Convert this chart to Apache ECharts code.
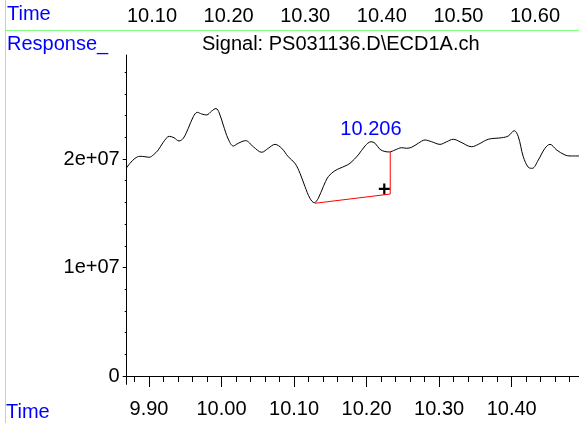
<!DOCTYPE html>
<html><head><meta charset="utf-8">
<script src="https://cdn.jsdelivr.net/npm/echarts@6/dist/echarts.min.js"></script>
<style>html,body{margin:0;padding:0;background:#fff}#c{width:579px;height:423px}</style>
</head><body><div id="c"></div>
<script>
const times = [9.8693,9.8738,9.8807,9.8876,9.8945,9.9004,9.9059,9.9128,9.9197,9.9280,9.9345,9.9414,9.9473,9.9542,9.9611,9.9666,9.9726,9.9795,9.9864,9.9924,9.9969,10.0024,10.0093,10.0162,10.0231,10.0333,10.0438,10.0554,10.0645,10.0737,10.0829,10.0920,10.1013,10.1082,10.1151,10.1219,10.1279,10.1334,10.1403,10.1472,10.1564,10.1702,10.1771,10.1885,10.1978,10.2060,10.2116,10.2184,10.2253,10.2313,10.2391,10.2484,10.2553,10.2621,10.2712,10.2805,10.2897,10.3012,10.3104,10.3195,10.3287,10.3449,10.3540,10.3678,10.3862,10.3953,10.4036,10.4091,10.4160,10.4229,10.4284,10.4367,10.4459,10.4528,10.4620,10.4735,10.4804,10.4928];
const responses = [19.20e6,19.60e6,20.06e6,20.25e6,20.21e6,20.16e6,20.37e6,20.83e6,21.54e6,22.09e6,21.96e6,21.66e6,21.91e6,22.83e6,23.90e6,24.30e6,24.15e6,24.06e6,24.42e6,24.65e6,24.24e6,23.13e6,21.84e6,21.20e6,21.45e6,21.69e6,21.13e6,20.62e6,20.99e6,21.35e6,20.99e6,20.21e6,19.60e6,18.68e6,17.45e6,16.38e6,15.97e6,16.38e6,17.45e6,18.37e6,18.92e6,19.35e6,19.60e6,20.37e6,21.20e6,21.59e6,21.45e6,20.89e6,20.69e6,20.65e6,20.83e6,21.04e6,20.99e6,21.08e6,21.45e6,21.75e6,21.59e6,21.35e6,21.59e6,21.82e6,21.59e6,21.13e6,21.35e6,21.82e6,21.96e6,22.12e6,22.61e6,22.06e6,20.21e6,19.24e6,19.14e6,19.91e6,20.99e6,21.35e6,20.83e6,20.37e6,20.28e6,20.28e6];
const baselineTimes = [10.1288, 10.2326, 10.2326];
const baselineValues = [15.92e6, 16.77e6, 20.65e6];
const markerTime = [10.2244];
const markerValue = [17.24e6];
const peakTime = [10.206];
const peakValue = [21.59e6];
const peakLabel = '10.206';
const bottomTickLabels = [9.9, 10.0, 10.1, 10.2, 10.3, 10.4];
const bottomMinorTicks = [9.88,9.92,9.94,9.96,9.98,10.02,10.04,10.06,10.08,10.12,10.14,10.16,10.18,10.22,10.24,10.26,10.28,10.32,10.34,10.36,10.38,10.42,10.44,10.46,10.48];
const yTickLabels = [0, 1e7, 2e7];
const yMinorTicks = [2e6,4e6,6e6,8e6,1.2e7,1.4e7,1.6e7,1.8e7,2.2e7,2.4e7,2.6e7,2.8e7];
const topTickLabels = ['10.10','10.20','10.30','10.40','10.50','10.60'];

const FONT = 'Liberation Sans, Arial, sans-serif';
const BLUE = '#0000ff';
const GREEN = '#80ff80';
const chart = echarts.init(document.getElementById('c'), null, {renderer:'canvas'});
const lineData = times.map((t,i)=>[t, responses[i]]);
const baseData = baselineTimes.map((t,i)=>[t, baselineValues[i]]);
const yFmt = v => v === 0 ? '0' : (v/1e7).toFixed(0) + 'e+07';
const hidden = {show:false};
chart.setOption({
  animation:false,
  backgroundColor:'#fff',
  graphic:[
    {type:'line', shape:{x1:5.5, y1:0, x2:5.5, y2:423}, style:{stroke:GREEN, lineWidth:1}, silent:true, z:10},
    {type:'line', shape:{x1:5.5, y1:30.5, x2:579, y2:30.5}, style:{stroke:GREEN, lineWidth:1}, silent:true, z:10}
  ],
  title:[
    {text:'Time', left:7, top:4, padding:0, textStyle:{color:BLUE, fontSize:20, fontWeight:'normal', fontFamily:FONT}},
    {text:'Response_', left:7, top:34, padding:0, textStyle:{color:BLUE, fontSize:20, fontWeight:'normal', fontFamily:FONT}},
    {text:'Signal: PS031136.D\\ECD1A.ch', left:202, top:34, padding:0, textStyle:{color:'#000', fontSize:20, fontWeight:'normal', fontFamily:FONT}},
    {text:'Time', left:6, top:402, padding:0, textStyle:{color:BLUE, fontSize:20, fontWeight:'normal', fontFamily:FONT}}
  ],
  grid:[
    {left:126.7, top:55, right:0, bottom:38.7},
    {left:75.4, top:30, width:459.6, height:1}
  ],
  xAxis:[
    {type:'value', gridIndex:0, min:9.8693, max:10.4928,
     axisLine:{show:true, lineStyle:{color:'#000', width:1}},
     axisTick:{show:true, length:11, customValues:bottomTickLabels, lineStyle:{color:'#000'}},
     axisLabel:{show:true, customValues:bottomTickLabels, formatter:v=>v.toFixed(2), color:'#000', fontSize:20, fontFamily:FONT, margin:15},
     splitLine:hidden},
    {type:'value', gridIndex:0, min:9.8693, max:10.4928, position:'bottom',
     axisLine:hidden,
     axisTick:{show:true, length:6, customValues:bottomMinorTicks, lineStyle:{color:'#000'}},
     axisLabel:hidden, splitLine:hidden},
    {type:'value', gridIndex:1, min:10.0, max:10.6, interval:0.1, position:'top',
     axisLine:hidden, axisTick:hidden, splitLine:hidden,
     axisLabel:{show:true, color:'#000', fontSize:20, fontFamily:FONT, margin:4,
       formatter:v=>{const s=v.toFixed(2); return topTickLabels.indexOf(s)>=0 ? s : '';}}}
  ],
  yAxis:[
    {type:'value', gridIndex:0, min:-765000, max:29585000,
     axisLine:{show:true, lineStyle:{color:'#000', width:1}},
     axisTick:{show:true, length:4, customValues:yTickLabels, lineStyle:{color:'#000'}},
     axisLabel:{show:true, customValues:yTickLabels, formatter:yFmt, color:'#000', fontSize:20, fontFamily:FONT, margin:7},
     splitLine:hidden},
    {type:'value', gridIndex:0, min:-765000, max:29585000, position:'left',
     axisLine:hidden,
     axisTick:{show:true, length:2, customValues:yMinorTicks, lineStyle:{color:'#000'}},
     axisLabel:hidden, splitLine:hidden},
    {type:'value', gridIndex:1, axisLine:hidden, axisTick:hidden, axisLabel:hidden, splitLine:hidden}
  ],
  series:[
    {type:'line', xAxisIndex:0, yAxisIndex:0, data:lineData, showSymbol:false, smooth:0.35,
     lineStyle:{color:'#000', width:1}, silent:true},
    {type:'line', xAxisIndex:0, yAxisIndex:0, data:baseData, showSymbol:false,
     lineStyle:{color:'#ff0000', width:1}, silent:true},
    {type:'scatter', xAxisIndex:0, yAxisIndex:0, data:markerTime.map((t,i)=>[t, markerValue[i]]),
     symbol:'path://M4,0H6V4H10V6H6V10H4V6H0V4H4Z', symbolSize:11, itemStyle:{color:'#000', opacity:1}, silent:true},
    {type:'line', xAxisIndex:0, yAxisIndex:0, data:peakTime.map((t,i)=>[t, peakValue[i]]),
     showSymbol:true, symbol:'none', lineStyle:{opacity:0}, silent:true,
     markPoint:{symbol:'circle', symbolSize:0, silent:true, itemStyle:{color:'transparent'},
       data:[{coord:[peakTime[0], peakValue[0]], value:peakLabel}],
       label:{show:true, position:'top', distance:2, formatter:peakLabel, color:BLUE, opacity:1, fontSize:20, fontFamily:FONT}}}
  ]
});
</script></body></html>
